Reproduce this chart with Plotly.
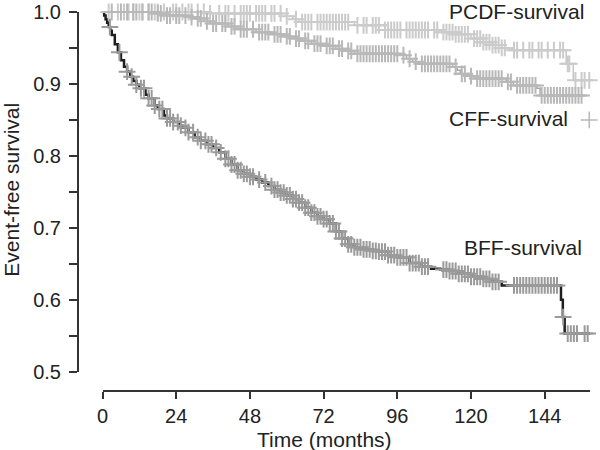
import numpy as np
import plotly.graph_objects as go

# ---------------- data ----------------
x_ticks = [0, 24, 48, 72, 96, 120, 144]
y_ticks = [0.5, 0.6, 0.7, 0.8, 0.9, 1.0]
y_labels = ["0.5", "0.6", "0.7", "0.8", "0.9", "1.0"]

# Kaplan-Meier step points (time in months, survival after step)
bff_t = [0, 0.5, 1, 1.5, 2, 2.5, 3, 4, 5, 6, 7, 8, 9, 10, 11, 12, 14, 15, 17, 18, 20, 21, 23, 25,
         26, 28, 30, 32, 34, 36, 38, 40, 42, 44, 46, 48, 50, 52, 54, 56, 58, 60, 62, 64, 66, 68,
         70, 72, 74, 76, 78, 80, 82, 85, 88, 90, 93, 96, 100, 104, 107, 110, 113, 116, 120, 124,
         127, 130, 149.3, 149.9, 150.5, 160]
bff_s = [1.0, 0.995, 0.99, 0.985, 0.979, 0.974, 0.968, 0.955, 0.944, 0.933, 0.924, 0.917, 0.910,
         0.904, 0.899, 0.894, 0.885, 0.880, 0.870, 0.865, 0.856, 0.852, 0.847, 0.842, 0.839, 0.833,
         0.826, 0.821, 0.816, 0.811, 0.805, 0.796, 0.788, 0.780, 0.775, 0.771, 0.767, 0.763, 0.758,
         0.753, 0.749, 0.745, 0.740, 0.735, 0.728, 0.721, 0.716, 0.712, 0.706, 0.695, 0.685, 0.677,
         0.673, 0.670, 0.668, 0.667, 0.662, 0.659, 0.651, 0.646, 0.643, 0.642, 0.640, 0.636, 0.632,
         0.629, 0.625, 0.620, 0.600, 0.576, 0.553, 0.553]

pcdf_t = [0, 35, 60, 62, 64, 82, 92, 110, 115, 120, 124, 127, 130, 133, 151, 153.3, 160]
pcdf_s = [1.0, 0.998, 0.994, 0.990, 0.986, 0.9815, 0.975, 0.972, 0.969, 0.963, 0.958, 0.954,
          0.950, 0.947, 0.928, 0.905, 0.905]

cff_t = [0, 17, 20, 28, 30, 33, 35, 41, 44, 50, 55, 59, 62, 65, 68, 72, 76, 79, 82, 97, 99, 101,
         103, 114, 115.5, 116.5, 119, 121, 131.5, 133.8, 141.4, 142.5, 157.6]
cff_s = [1.0, 0.998, 0.995, 0.993, 0.991, 0.987, 0.984, 0.980, 0.976, 0.972, 0.969, 0.966, 0.963,
         0.960, 0.956, 0.953, 0.949, 0.946, 0.942, 0.940, 0.935, 0.931, 0.928, 0.9236, 0.919, 0.914,
         0.911, 0.9075, 0.903, 0.898, 0.894, 0.884, 0.884]

# censoring times
bff_cens = [2.4, 5.5, 8, 9.5, 11, 12.5, 13.5, 15, 16, 17, 18.5, 19.5, 21, 22, 23, 24.5, 25.5, 27,
            28, 29.5, 31, 32, 33.5, 34.5, 35.5, 37, 38.5, 40, 41, 42, 43, 44, 45, 46, 47, 48, 49,
            51, 53, 55, 56, 57, 58, 59, 60, 61, 62, 63, 64, 65, 66, 67, 68, 69, 70, 71, 72, 73, 74,
            75, 76, 77, 78, 79, 80, 81, 82, 83, 84, 85, 86, 87, 88, 89, 90, 91, 92, 93, 94, 95, 96,
            97, 98, 99, 100, 101, 102, 103, 104, 105, 106, 111, 112, 113, 114, 115, 116, 117, 118,
            119, 120, 121, 122, 123, 124, 125, 126, 127, 128, 129, 134, 135, 136, 137, 138, 139,
            140, 141, 142, 143, 144, 145, 146, 147, 148, 150, 151.5, 152.5, 153.5, 154.5, 157, 158,
            159.5]
pcdf_cens = [2, 5, 7, 8.5, 10, 12, 13, 15, 17, 18, 20, 23, 24, 26, 28, 29, 31, 33, 35, 38, 40,
             41, 43, 45, 46, 47, 48, 50, 51, 52, 53, 55, 56, 58, 60, 63, 65, 66, 67, 68, 70, 71, 72,
             73, 74, 75, 76, 77, 78, 79, 80, 83, 85, 86, 88, 89, 90, 92, 93, 94, 95, 96, 97, 99,
             100, 101, 102, 103, 104, 105, 106, 108, 109, 111, 112, 113, 114, 115, 116, 117, 118,
             119, 121, 122, 123, 124, 125, 126, 127, 128, 129, 130, 131, 134, 135, 137, 139, 140,
             142, 143, 145, 147, 149, 150, 151.5, 152, 154, 156, 157, 158.5, 160]
cff_cens = [3, 6, 8, 10, 11, 13, 15, 16, 18, 19, 21, 22, 24, 25, 27, 29, 31, 32, 34, 36, 37, 39,
            40, 42, 43, 45, 46, 47, 49, 51, 52, 53, 54, 56, 57, 58, 60, 61, 63, 64, 66, 67, 69, 70,
            71, 73, 74, 75, 77, 78, 80, 81, 83, 84, 85, 86, 87, 88, 89, 90, 91, 92, 93, 94, 95, 96,
            98, 100, 102, 104, 105, 106, 107, 108, 109, 110, 111, 112, 113, 115, 117, 118, 120,
            122, 123, 124, 125, 126, 127, 128, 129, 130, 132, 133, 135, 136, 137, 138, 139, 140,
            141, 143, 144, 145, 146, 147, 148, 149, 150, 151, 152, 153, 154, 155, 156]
cff_last_t = [158.5]
cff_last_s = [0.85]

labels = ["PCDF-survival", "CFF-survival", "BFF-survival"]
label_x = [157.3, 152.1, 156.7]
label_y = [1.0, 0.8514, 0.673]
label_shift = [1, 0, 0]


def step_value(times, surv, t):
    times = np.asarray(times)
    surv = np.asarray(surv)
    idx = np.searchsorted(times, t, side="right") - 1
    return surv[np.clip(idx, 0, len(surv) - 1)]


FONT = "Liberation Sans, Arial, Helvetica, sans-serif"
fig = go.Figure()

curves = [
    (pcdf_t, pcdf_s, pcdf_cens, "#c4c4c4", 1.5, "#cbcbcb"),
    (cff_t, cff_s, cff_cens, "#a8a8a8", 1.5, "#b8b8b8"),
    (bff_t, bff_s, bff_cens, "#1e1e1e", 2.5, "#9a9a9a"),
]
for t, s, cens, lc, lw, mc in curves:
    fig.add_trace(go.Scatter(x=t, y=s, mode="lines", line=dict(shape="hv", color=lc, width=lw),
                             hoverinfo="skip", showlegend=False))
for t, s, cens, lc, lw, mc in curves:
    fig.add_trace(go.Scatter(x=cens, y=step_value(t, s, cens), mode="markers",
                             marker=dict(symbol="cross-thin", size=12,
                                         line=dict(color=mc, width=2)),
                             cliponaxis=False, hoverinfo="skip", showlegend=False))
fig.add_trace(go.Scatter(x=cff_last_t, y=cff_last_s, mode="markers",
                         marker=dict(symbol="cross-thin", size=12, line=dict(color="#b8b8b8", width=1.5)),
                         cliponaxis=False, hoverinfo="skip", showlegend=False))

for txt, xx, yy, sh in zip(labels, label_x, label_y, label_shift):
    fig.add_annotation(x=xx, y=yy, xref="x", yref="y", text=txt, showarrow=False,
                       xanchor="right", yanchor="middle", yshift=sh,
                       font=dict(family=FONT, size=21, color="#222222"))

fig.add_annotation(x=72.3, y=0, xref="x", yref="paper", text="Time (months)", showarrow=False,
                   xanchor="center", yanchor="middle", yshift=-48,
                   font=dict(family=FONT, size=21, color="#222222"))
fig.add_annotation(x=0, y=0.753, xref="paper", yref="y", text="Event-free survival", showarrow=False,
                   textangle=-90, xanchor="center", yanchor="middle", xshift=-66,
                   font=dict(family=FONT, size=21, color="#222222"))

axis_font = dict(family=FONT, size=20, color="#222222")
fig.update_layout(
    width=600, height=450,
    margin=dict(l=78, r=10, t=12, b=59, autoexpand=False),
    paper_bgcolor="white", plot_bgcolor="white",
    xaxis=dict(domain=[0.0479, 1], range=[0, 158.75], anchor="free", position=0, automargin=False,
               tickvals=x_ticks, ticktext=[str(v) for v in x_ticks], ticks="outside", ticklen=7,
               tickwidth=2, tickcolor="#333333", showline=True, linecolor="#333333", linewidth=2,
               showgrid=False, zeroline=False, tickfont=axis_font),
    yaxis=dict(domain=[0.0509, 1], range=[0.5, 1.0], anchor="free", position=0, automargin=False,
               tickvals=y_ticks, ticktext=y_labels, ticks="outside", ticklen=8, tickwidth=2,
               tickcolor="#333333", showline=True, linecolor="#333333", linewidth=2,
               showgrid=False, zeroline=False, tickfont=axis_font, ticklabelstandoff=4,
               minor=dict(dtick=0.05, tick0=0.5, ticks="outside", ticklen=8, tickwidth=2,
                          tickcolor="#333333", showgrid=False)),
)

fig.write_html("out.html", config={"displayModeBar": False},
               post_script="document.body.style.margin='0';")
